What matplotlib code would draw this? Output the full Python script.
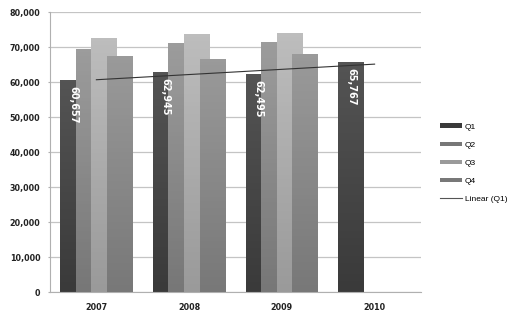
import numpy as np
import matplotlib.pyplot as plt
from matplotlib.ticker import FuncFormatter
from matplotlib.colors import LinearSegmentedColormap
from matplotlib.patches import Patch
from matplotlib.lines import Line2D

years = ["2007", "2008", "2009", "2010"]
q1 = [60657, 62945, 62495, 65767]
q2 = [69500, 71100, 71400, np.nan]
q3 = [72700, 73900, 74000, np.nan]
q4 = [67400, 66700, 68000, np.nan]
series = {"Q1": q1, "Q2": q2, "Q3": q3, "Q4": q4}
q1_labels = ["60,657", "62,945", "62,495", "65,767"]

# (top colour, bottom colour) of each series gradient
shades = {"Q1": ("#545454", "#3a3a3a"),
          "Q2": ("#9c9c9c", "#777777"),
          "Q3": ("#bdbdbd", "#9a9a9a"),
          "Q4": ("#9a9a9a", "#787878")}

fig = plt.figure(figsize=(5.21, 3.25), dpi=100)
ax = fig.add_axes([0.096, 0.101, 0.712, 0.861])

x = np.arange(len(years))
width = 0.28
step = 0.168

for i, (name, vals) in enumerate(series.items()):
    offs = (i - 1.5) * step
    bars = ax.bar(x + offs, vals, width, color=shades[name][1], zorder=2 + i,
                  linewidth=0)
    cmap = LinearSegmentedColormap.from_list(name, [shades[name][1], shades[name][0]])
    grad = np.linspace(0, 1, 64).reshape(-1, 1)
    for b in bars:
        h = b.get_height()
        if np.isnan(h) or h == 0:
            continue
        im = ax.imshow(grad, cmap=cmap, origin="lower", aspect="auto",
                       extent=(b.get_x(), b.get_x() + b.get_width(), 0, h),
                       zorder=2 + i)
        im.set_clip_path(b)

# data labels on Q1
for xi, v, lab in zip(x, q1, q1_labels):
    ax.text(xi - 1.5 * step, v - 1800, lab, rotation=270, color="white",
            fontsize=7, fontweight="bold", ha="center", va="top", zorder=10)

# linear trend of Q1
coef = np.polyfit(x, q1, 1)
ax.plot(x, np.polyval(coef, x), color="#333333", lw=0.8, zorder=11)

ax.set_xlim(-0.5, 3.5)
ax.set_ylim(0, 80000)
ax.set_yticks(np.arange(0, 80001, 10000))
ax.yaxis.set_major_formatter(FuncFormatter(lambda v, p: f"{int(v):,}"))
ax.set_xticks(x)
ax.set_xticklabels(years)
ax.grid(axis="y", color="#c4c4c4", lw=0.9, zorder=0)
ax.set_axisbelow(True)
for s in ["top", "right"]:
    ax.spines[s].set_visible(False)
ax.spines["left"].set_color("#b0b0b0")
ax.spines["bottom"].set_color("#b0b0b0")
ax.tick_params(axis="y", length=1.5, color="#b0b0b0", labelsize=5.8,
               labelcolor="#222222", pad=5.5)
ax.tick_params(axis="x", length=0, labelsize=5.8, labelcolor="#222222", pad=8)
for t in ax.get_yticklabels() + ax.get_xticklabels():
    t.set_fontweight("bold")

handles = [Patch(facecolor=shades[n][1], edgecolor="none") for n in series]
handles.append(Line2D([], [], color="#555555", lw=0.8))
leg = ax.legend(handles, list(series) + ["Linear (Q1)"], loc="center left",
                bbox_to_anchor=(1.031, 0.461), frameon=False, handlelength=2.6,
                handleheight=0.45, labelspacing=1.3, handletextpad=0.4,
                prop={"family": "Liberation Sans", "size": 6})

fig.savefig("out.png", dpi=100)
